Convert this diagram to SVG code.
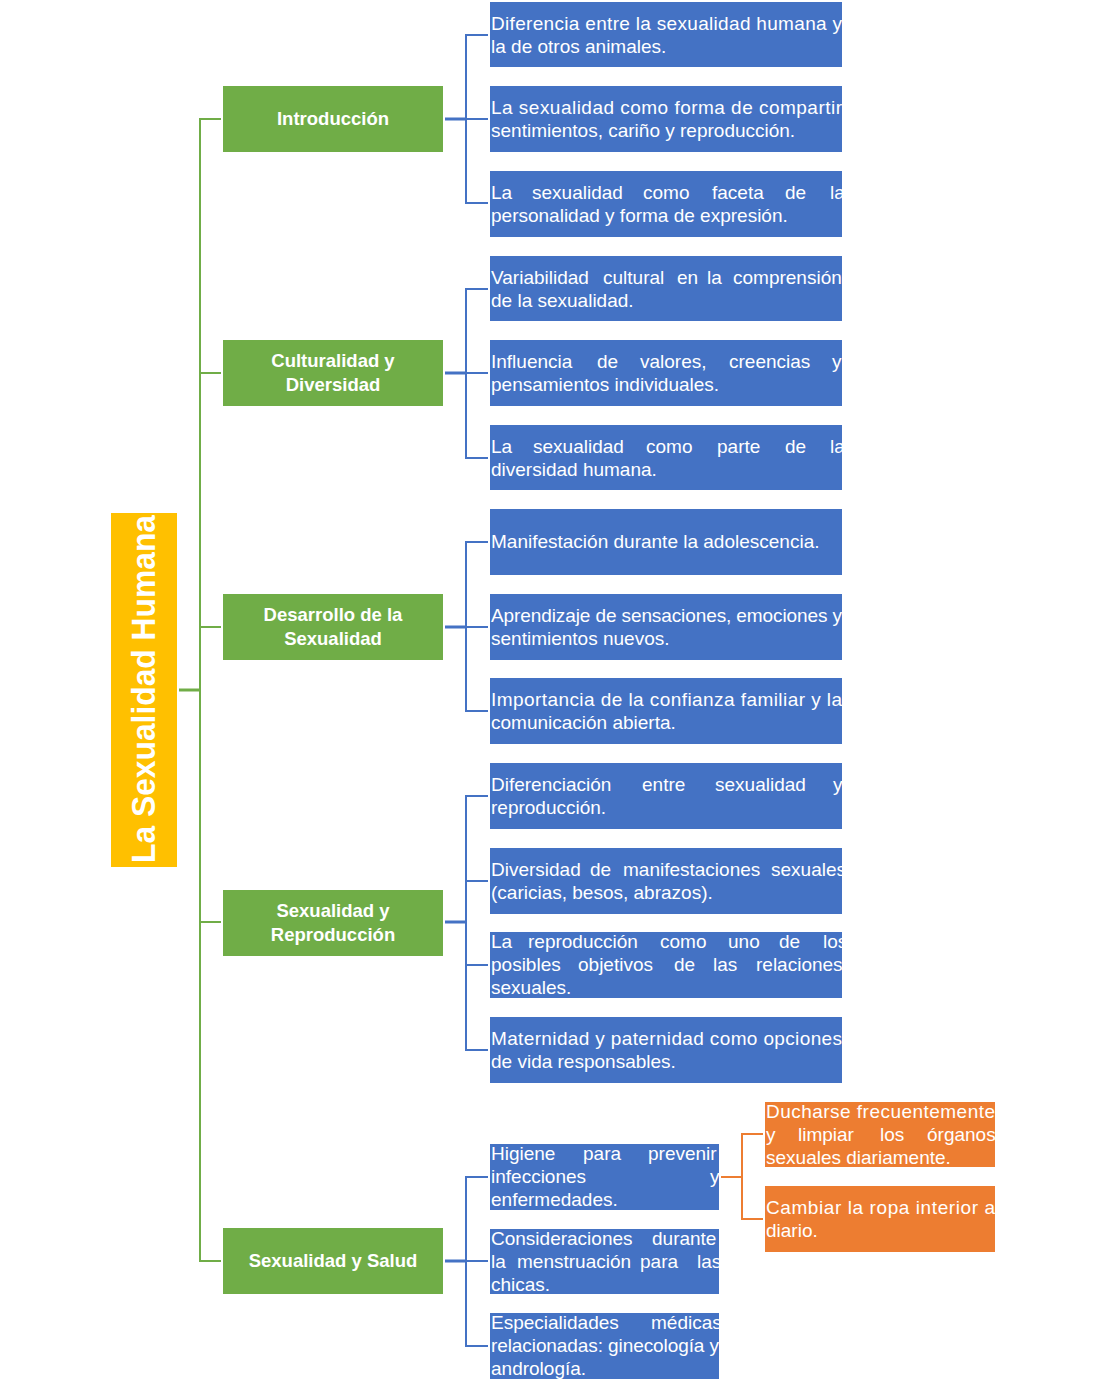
<svg xmlns="http://www.w3.org/2000/svg" width="1106" height="1394" viewBox="0 0 1106 1394">
<style>
.bg{fill:#ffffff}
.root{fill:#FFC000}
.l1{fill:#70AD47}
.l2{fill:#4472C4}
.l3{fill:#ED7D31}
.t{font-family:"Liberation Sans",Arial,sans-serif;font-size:19px;fill:#ffffff}
.tb{font-family:"Liberation Sans",Arial,sans-serif;font-size:18.5px;font-weight:bold;fill:#ffffff;text-anchor:middle}
.tr{font-family:"Liberation Sans",Arial,sans-serif;font-size:33px;font-weight:bold;fill:#ffffff;text-anchor:middle}
.cg{fill:none;stroke:#70AD47;stroke-width:2}
.cgs{fill:none;stroke:#70AD47;stroke-width:3}
.cb{fill:none;stroke:#4472C4;stroke-width:2}
.cbs{fill:none;stroke:#4472C4;stroke-width:3}
.co{fill:none;stroke:#ED7D31;stroke-width:2}
</style>
<rect class="bg" x="0" y="0" width="1106" height="1394"/>

<g id="connectors">
  <path class="cgs" d="M179,690 H200"/>
  <path class="cg" d="M221,119 H200 V1261 H221 M200,373 H221 M200,627 H221 M200,922 H221"/>
  <path class="cbs" d="M445,119 H466 M445,373 H466 M445,627 H466 M445,922 H466 M445,1261 H466"/>
  <path class="cb" d="M488,35 H466 V203 H488 M466,119 H488"/>
  <path class="cb" d="M488,289 H466 V458 H488 M466,373 H488"/>
  <path class="cb" d="M488,542 H466 V711 H488 M466,627 H488"/>
  <path class="cb" d="M488,796 H466 V1050 H488 M466,881 H488 M466,965 H488"/>
  <path class="cb" d="M488,1177 H466 V1346 H488 M466,1261 H488"/>
  <path class="co" d="M721,1177 H742 M763,1134 H742 V1219 H763"/>
</g>

<g id="root">
  <rect class="root" x="111" y="513" width="66" height="354"/>
  <text class="tr" transform="translate(155,689) rotate(-90)" x="0" y="0" textLength="348" lengthAdjust="spacingAndGlyphs">La Sexualidad Humana</text>
</g>

<g id="n-introduccion">
  <rect class="l1" x="223" y="86" width="220" height="66"/>
  <text class="tb" x="333" y="125">Introducción</text>
</g>
<g id="n-culturalidad">
  <rect class="l1" x="223" y="340" width="220" height="66"/>
  <text class="tb" x="333" y="367">Culturalidad y</text>
  <text class="tb" x="333" y="391">Diversidad</text>
</g>
<g id="n-desarrollo">
  <rect class="l1" x="223" y="594" width="220" height="66"/>
  <text class="tb" x="333" y="621">Desarrollo de la</text>
  <text class="tb" x="333" y="645">Sexualidad</text>
</g>
<g id="n-reproduccion">
  <rect class="l1" x="223" y="890" width="220" height="66"/>
  <text class="tb" x="333" y="917">Sexualidad y</text>
  <text class="tb" x="333" y="941">Reproducción</text>
</g>
<g id="n-salud">
  <rect class="l1" x="223" y="1228" width="220" height="66"/>
  <text class="tb" x="333" y="1267">Sexualidad y Salud</text>
</g>

<g id="n-i1">
  <rect class="l2" x="490" y="2" width="352" height="65"/>
  <text class="t" x="491" y="30" textLength="351" lengthAdjust="spacing">Diferencia entre la sexualidad humana y</text>
  <text class="t" x="491" y="53">la de otros animales.</text>
</g>
<g id="n-i2">
  <rect class="l2" x="490" y="86" width="352" height="66"/>
  <text class="t" x="491" y="114" textLength="351" lengthAdjust="spacing">La sexualidad como forma de compartir</text>
  <text class="t" x="491" y="137">sentimientos, cariño y reproducción.</text>
</g>
<g id="n-i3">
  <rect class="l2" x="490" y="171" width="352" height="66"/>
  <text class="t" y="199"><tspan x="491">La</tspan><tspan x="532">sexualidad</tspan><tspan x="643">como</tspan><tspan x="712">faceta</tspan><tspan x="785">de</tspan><tspan x="830">la</tspan></text>
  <text class="t" x="491" y="222">personalidad y forma de expresión.</text>
</g>

<g id="n-c1">
  <rect class="l2" x="490" y="256" width="352" height="65"/>
  <text class="t" y="284"><tspan x="491">Variabilidad</tspan><tspan x="603">cultural</tspan><tspan x="677">en</tspan><tspan x="707">la</tspan><tspan x="733">comprensión</tspan></text>
  <text class="t" x="491" y="307">de la sexualidad.</text>
</g>
<g id="n-c2">
  <rect class="l2" x="490" y="340" width="352" height="66"/>
  <text class="t" y="368"><tspan x="491">Influencia</tspan><tspan x="597">de</tspan><tspan x="640">valores,</tspan><tspan x="729">creencias</tspan><tspan x="832">y</tspan></text>
  <text class="t" x="491" y="391">pensamientos individuales.</text>
</g>
<g id="n-c3">
  <rect class="l2" x="490" y="425" width="352" height="65"/>
  <text class="t" y="453"><tspan x="491">La</tspan><tspan x="533">sexualidad</tspan><tspan x="646">como</tspan><tspan x="717">parte</tspan><tspan x="785">de</tspan><tspan x="830">la</tspan></text>
  <text class="t" x="491" y="476">diversidad humana.</text>
</g>

<g id="n-d1">
  <rect class="l2" x="490" y="509" width="352" height="66"/>
  <text class="t" x="491" y="548">Manifestación durante la adolescencia.</text>
</g>
<g id="n-d2">
  <rect class="l2" x="490" y="594" width="352" height="66"/>
  <text class="t" x="491" y="622" textLength="351" lengthAdjust="spacing">Aprendizaje de sensaciones, emociones y</text>
  <text class="t" x="491" y="645">sentimientos nuevos.</text>
</g>
<g id="n-d3">
  <rect class="l2" x="490" y="678" width="352" height="66"/>
  <text class="t" x="491" y="706" textLength="351" lengthAdjust="spacing">Importancia de la confianza familiar y la</text>
  <text class="t" x="491" y="729">comunicación abierta.</text>
</g>

<g id="n-r1">
  <rect class="l2" x="490" y="763" width="352" height="66"/>
  <text class="t" y="791"><tspan x="491">Diferenciación</tspan><tspan x="642">entre</tspan><tspan x="715">sexualidad</tspan><tspan x="833">y</tspan></text>
  <text class="t" x="491" y="814">reproducción.</text>
</g>
<g id="n-r2">
  <rect class="l2" x="490" y="848" width="352" height="66"/>
  <text class="t" y="876"><tspan x="491">Diversidad</tspan><tspan x="590">de</tspan><tspan x="623">manifestaciones</tspan><tspan x="771">sexuales</tspan></text>
  <text class="t" x="491" y="899">(caricias, besos, abrazos).</text>
</g>
<g id="n-r3">
  <rect class="l2" x="490" y="932" width="352" height="66"/>
  <text class="t" y="948"><tspan x="491">La</tspan><tspan x="528">reproducción</tspan><tspan x="660">como</tspan><tspan x="728">uno</tspan><tspan x="779">de</tspan><tspan x="823">los</tspan></text>
  <text class="t" y="971"><tspan x="491">posibles</tspan><tspan x="578">objetivos</tspan><tspan x="674">de</tspan><tspan x="713">las</tspan><tspan x="756">relaciones</tspan></text>
  <text class="t" x="491" y="994">sexuales.</text>
</g>
<g id="n-r4">
  <rect class="l2" x="490" y="1017" width="352" height="66"/>
  <text class="t" x="491" y="1045" textLength="351" lengthAdjust="spacing">Maternidad y paternidad como opciones</text>
  <text class="t" x="491" y="1068">de vida responsables.</text>
</g>

<g id="n-s1">
  <rect class="l2" x="490" y="1144" width="229" height="66"/>
  <text class="t" y="1160"><tspan x="491">Higiene</tspan><tspan x="583">para</tspan><tspan x="648">prevenir</tspan></text>
  <text class="t" y="1183"><tspan x="491">infecciones</tspan><tspan x="710">y</tspan></text>
  <text class="t" x="491" y="1206">enfermedades.</text>
</g>
<g id="n-s2">
  <rect class="l2" x="490" y="1229" width="229" height="65"/>
  <text class="t" y="1245"><tspan x="491">Consideraciones</tspan><tspan x="652">durante</tspan></text>
  <text class="t" y="1268"><tspan x="491">la</tspan><tspan x="517">menstruación</tspan><tspan x="640">para</tspan><tspan x="697">las</tspan></text>
  <text class="t" x="491" y="1291">chicas.</text>
</g>
<g id="n-s3">
  <rect class="l2" x="490" y="1313" width="229" height="66"/>
  <text class="t" y="1329"><tspan x="491">Especialidades</tspan><tspan x="651">médicas</tspan></text>
  <text class="t" x="491" y="1352" textLength="228" lengthAdjust="spacing">relacionadas: ginecología y</text>
  <text class="t" x="491" y="1375">andrología.</text>
</g>

<g id="n-o1">
  <rect class="l3" x="765" y="1102" width="230" height="65"/>
  <text class="t" x="766" y="1118" textLength="229" lengthAdjust="spacing">Ducharse frecuentemente</text>
  <text class="t" y="1141"><tspan x="766">y</tspan><tspan x="798">limpiar</tspan><tspan x="880">los</tspan><tspan x="927">órganos</tspan></text>
  <text class="t" x="766" y="1164">sexuales diariamente.</text>
</g>
<g id="n-o2">
  <rect class="l3" x="765" y="1186" width="230" height="66"/>
  <text class="t" x="766" y="1214" textLength="229" lengthAdjust="spacing">Cambiar la ropa interior a</text>
  <text class="t" x="766" y="1237">diario.</text>
</g>
</svg>
